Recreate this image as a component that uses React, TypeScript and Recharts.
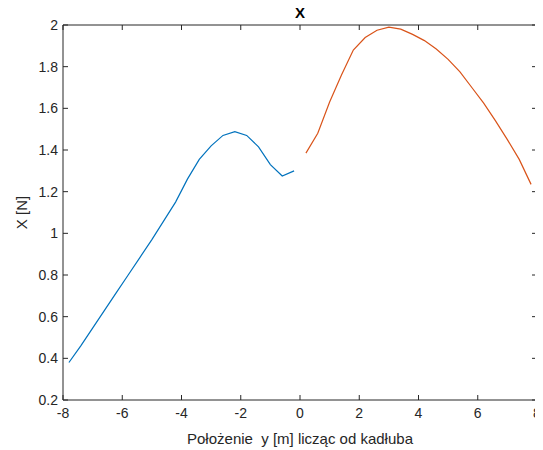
import { LineChart, Line, XAxis, YAxis } from "recharts";

const leftPos = [-7.8, -7.4, -7.0, -6.6, -6.2, -5.8, -5.4, -5.0, -4.6, -4.2, -3.8, -3.4, -3.0, -2.6, -2.2, -1.8, -1.4, -1.0, -0.6, -0.2];
const leftForce = [0.38, 0.46, 0.545, 0.63, 0.715, 0.8, 0.885, 0.97, 1.06, 1.15, 1.26, 1.355, 1.42, 1.47, 1.488, 1.47, 1.415, 1.33, 1.275, 1.3];
const rightPos = [0.2, 0.6, 1.0, 1.4, 1.8, 2.2, 2.6, 3.0, 3.4, 3.8, 4.2, 4.6, 5.0, 5.4, 5.8, 6.2, 6.6, 7.0, 7.4, 7.8];
const rightForce = [1.385, 1.48, 1.63, 1.76, 1.88, 1.94, 1.975, 1.99, 1.98, 1.955, 1.925, 1.885, 1.835, 1.775, 1.7, 1.625, 1.54, 1.45, 1.355, 1.235];

const xTicks = [-8, -6, -4, -2, 0, 2, 4, 6, 8];
const yTicks = [0.2, 0.4, 0.6, 0.8, 1, 1.2, 1.4, 1.6, 1.8, 2];

// one table: left wing rows then right wing rows, the other column left empty
const data = [
  ...leftPos.map((x, i) => ({ x, left: leftForce[i], right: null as number | null })),
  ...rightPos.map((x, i) => ({ x, left: null as number | null, right: rightForce[i] })),
];

const axisColor = "#262626";
const font = "'Liberation Sans', Arial, sans-serif";
const tickStyle = { fill: axisColor, fontSize: 14, fontFamily: font };

export default function App() {
  return (
    <div style={{ position: "relative", width: 535, height: 442 }}>
      <div
        style={{
          position: "absolute",
          left: 55,
          width: 474,
          top: -4,
          textAlign: "center",
          fontFamily: font,
          fontWeight: "bold",
          fontSize: 15,
          color: "#000",
        }}
      >
        X
      </div>
      <LineChart width={535} height={442} data={data} margin={{ top: 16, right: 5, left: 0, bottom: 0 }}>
        <XAxis
          xAxisId="b"
          dataKey="x"
          type="number"
          domain={[-8, 8]}
          ticks={xTicks}
          allowDataOverflow
          stroke={axisColor}
          tickSize={-5}
          tickMargin={13}
          tick={tickStyle}
          height={50}
          label={{ value: "Położenie\u00a0 y [m] licząc od kadłuba", position: "insideBottom", offset: 6, style: { fill: axisColor, fontSize: 15, fontFamily: font } }}
        />
        <XAxis
          xAxisId="t"
          orientation="top"
          dataKey="x"
          type="number"
          domain={[-8, 8]}
          ticks={xTicks}
          allowDataOverflow
          stroke={axisColor}
          tickSize={-5}
          tickFormatter={() => ""}
          height={1}
        />
        <YAxis
          yAxisId="l"
          type="number"
          domain={[0.2, 2]}
          ticks={yTicks}
          allowDataOverflow
          stroke={axisColor}
          tickSize={-5}
          tickMargin={10}
          tick={tickStyle}
          width={55}
          label={{ value: "X [N]", angle: -90, position: "insideLeft", offset: 14, style: { fill: axisColor, fontSize: 15, fontFamily: font, textAnchor: "middle" } }}
        />
        <YAxis
          yAxisId="r"
          orientation="right"
          type="number"
          domain={[0.2, 2]}
          ticks={yTicks}
          allowDataOverflow
          stroke={axisColor}
          tickSize={-5}
          tickFormatter={() => ""}
          width={1}
        />
        {/* hidden copy so the top/right box axes get drawn */}
        <Line
          xAxisId="t"
          yAxisId="r"
          dataKey="left"
          stroke="none"
          dot={false}
          activeDot={false}
          legendType="none"
          isAnimationActive={false}
        />
        <Line
          xAxisId="b"
          yAxisId="l"
          dataKey="left"
          type="linear"
          stroke="#0072BD"
          strokeWidth={1.2}
          dot={false}
          isAnimationActive={false}
        />
        <Line
          xAxisId="b"
          yAxisId="l"
          dataKey="right"
          type="linear"
          stroke="#D95319"
          strokeWidth={1.2}
          dot={false}
          isAnimationActive={false}
        />
      </LineChart>
    </div>
  );
}
